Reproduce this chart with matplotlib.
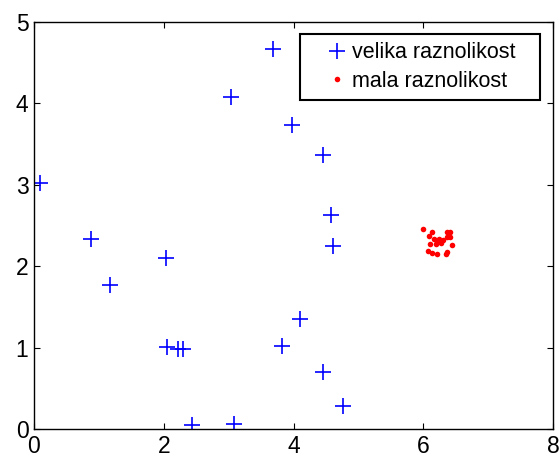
import matplotlib
matplotlib.use('Agg')
import matplotlib.pyplot as plt

plt.rcParams['font.family'] = ['Liberation Sans', 'DejaVu Sans']

# velika raznolikost (plus markers)
big_x = [0.09, 0.88, 1.17, 2.03, 2.05, 2.22, 2.29, 2.43, 3.04, 3.08,
         3.68, 3.82, 3.98, 4.10, 4.45, 4.45, 4.58, 4.61, 4.76]
big_y = [3.02, 2.33, 1.77, 2.10, 1.01, 0.99, 0.99, 0.05, 4.08, 0.07,
         4.67, 1.02, 3.73, 1.36, 3.37, 0.70, 2.63, 2.25, 0.29]

# mala raznolikost (red dots)
small_x = [6.00, 6.14, 6.36, 6.42, 6.09, 6.17, 6.25, 6.30, 6.21, 6.27,
           6.36, 6.41, 6.10, 6.19, 6.44, 6.08, 6.14, 6.21, 6.35, 6.36]
small_y = [2.46, 2.42, 2.42, 2.42, 2.37, 2.33, 2.34, 2.32, 2.30, 2.29,
           2.36, 2.36, 2.27, 2.28, 2.26, 2.19, 2.17, 2.15, 2.15, 2.18]

labels = ['velika raznolikost', 'mala raznolikost']

fig = plt.figure(figsize=(5.6, 4.59), dpi=100, facecolor='white')
ax = fig.add_axes([34 / 560, 1 - 429.3 / 459, 519 / 560, 407.3 / 459])

ax.plot(big_x, big_y, linestyle='none', marker='+', color='#0000ff',
        markersize=11, markeredgewidth=1.2, label=labels[0])
ax.plot(small_x, small_y, linestyle='none', marker='o', color='#ff0000',
        markersize=4, markeredgewidth=0, label=labels[1])

ax.set_xlim(0, 8)
ax.set_ylim(0, 5)
ax.set_xticks([0, 2, 4, 6, 8])
ax.set_yticks([0, 1, 2, 3, 4, 5])
ax.tick_params(direction='in', top=True, right=True, length=4, width=0.8,
               labelsize=16.5, pad=4)
for s in ax.spines.values():
    s.set_linewidth(1.0)
    s.set_color('black')

# legend box ~ x 300..540 px, top at 34 px
leg = ax.legend(loc='upper left', bbox_to_anchor=(0.5125, 0.813, 0.4624, 0.1575),
                mode='expand', fancybox=False, framealpha=1, edgecolor='black',
                fontsize=15.5, handlelength=2.7, handletextpad=-0.65,
                labelspacing=0.36, borderpad=0.38, borderaxespad=0)
leg.get_frame().set_linewidth(1.5)

fig.savefig('out.png', dpi=100, facecolor='white')
